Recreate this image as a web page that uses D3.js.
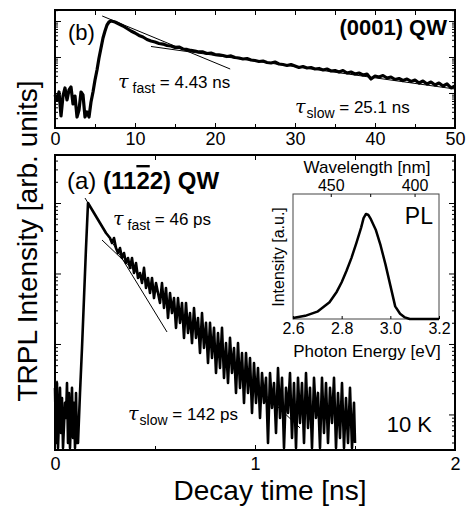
<!DOCTYPE html>
<html>
<head>
<meta charset="utf-8">
<script src="https://cdn.jsdelivr.net/npm/d3@7"></script>
<style>
    body { margin: 0; background: #fff; }
    svg text { font-family: "Liberation Sans", Arial, sans-serif; fill: #000; }
    .axis path { display: none; }
    .axis line { stroke: #000; stroke-width: 1; }
</style>
</head>
<body>
<svg id="chart" width="466" height="508"></svg>
<script>
// (b) (0001) QW, time in ns, intensity in arb. units
var timeB = [0, 0.25, 0.5, 0.75, 1, 1.25, 1.5, 1.75, 2, 2.25, 2.5, 2.75, 3, 3.25, 3.5, 3.75, 4, 4.25, 4.5, 4.75,
    5, 5.25, 5.5, 5.75, 6, 6.25, 6.5, 6.75, 7,
    7.5, 8, 8.5, 9, 9.5, 10, 10.5, 11, 11.5, 12, 12.5, 13, 13.5, 14, 14.5, 15, 15.5, 16, 16.5, 17, 17.5, 18, 18.5,
    19, 19.5, 20, 20.5, 21, 21.5, 22, 22.5, 23, 23.5, 24, 24.5, 25, 25.5, 26, 26.5, 27, 27.5, 28, 28.5, 29, 29.5,
    30, 30.5, 31, 31.5, 32, 32.5, 33, 33.5, 34, 34.5, 35, 35.5, 36, 36.5, 37, 37.5, 38, 38.5, 39, 39.5, 40, 40.5,
    41, 41.5, 42, 42.5, 43, 43.5, 44, 44.5, 45, 45.5, 46, 46.5, 47, 47.5, 48, 48.5, 49, 49.5, 50];
var intB = [0.0088, 0.00639, 0.01066, 0.0023, 0.00825, 0.01377, 0.00639, 0.01212, 0.01468, 0.00495, 0.00825,
    0.00215, 0.00337, 0.01066, 0.0088, 0.00215, 0.00297, 0.00215, 0.00562, 0.01066,
    0.023, 0.0435, 0.0938, 0.178, 0.337, 0.527, 0.774, 0.938, 1.0,
    0.938, 0.825, 0.726, 0.619, 0.527, 0.464, 0.396, 0.359, 0.306, 0.278, 0.261, 0.237, 0.229, 0.209, 0.202,
    0.184, 0.189, 0.167, 0.162, 0.152, 0.147, 0.138, 0.138, 0.125, 0.129, 0.117, 0.114, 0.110, 0.103, 0.107,
    0.0969, 0.0938, 0.088, 0.0909, 0.0825, 0.080, 0.075, 0.0774, 0.0704, 0.0681, 0.0726, 0.0639, 0.0619, 0.058,
    0.0619, 0.0562, 0.0511, 0.0545, 0.0495, 0.0511, 0.0464, 0.048, 0.0435, 0.0464, 0.0408, 0.0422, 0.0383,
    0.0422, 0.0359, 0.0383, 0.0337, 0.0359, 0.0316, 0.0337, 0.0245, 0.0296, 0.0278, 0.0306, 0.0261, 0.0278,
    0.0237, 0.0253, 0.0222, 0.0245, 0.0209, 0.0229, 0.0189, 0.0215, 0.0178, 0.0202, 0.0167, 0.0189, 0.0156,
    0.0178, 0.0138, 0.0156];
var fastFitB = [[5.9, 1.377], [21.9, 0.0464]];
var slowFitB = [[12, 0.196], [50, 0.0129]];

// (a) (11-22) QW, time in ns
var timeA = [0, 0.005, 0.01, 0.015, 0.025, 0.03, 0.035, 0.04, 0.05, 0.055, 0.06, 0.065, 0.07, 0.075, 0.085,
    0.09, 0.095, 0.1, 0.105, 0.11, 0.115, 0.125, 0.135, 0.145, 0.155, 0.165,
    0.18, 0.195, 0.21, 0.225, 0.24, 0.255,
    0.275, 0.285, 0.295, 0.305, 0.315, 0.325, 0.335, 0.345, 0.355, 0.365,
    0.375, 0.385, 0.395, 0.405, 0.415, 0.425, 0.435, 0.445, 0.455, 0.465,
    0.475, 0.485, 0.495, 0.505, 0.515, 0.525, 0.535, 0.545, 0.555, 0.565,
    0.575, 0.585, 0.595, 0.605, 0.615, 0.625, 0.635, 0.645, 0.655, 0.665,
    0.675, 0.685, 0.695, 0.705, 0.715, 0.725, 0.735, 0.745, 0.755, 0.765,
    0.775, 0.785, 0.795, 0.805, 0.815, 0.825, 0.835, 0.845, 0.855, 0.865,
    0.875, 0.885, 0.895, 0.905, 0.915, 0.925, 0.935, 0.945, 0.955, 0.965,
    0.975, 0.985, 0.995, 1.005, 1.015, 1.025,
    1.035, 1.045, 1.055, 1.065, 1.075, 1.085, 1.095, 1.105, 1.115, 1.125,
    1.135, 1.145, 1.155, 1.165, 1.175, 1.185, 1.195, 1.205, 1.215, 1.225,
    1.235, 1.245, 1.255, 1.265, 1.275, 1.285, 1.295, 1.305, 1.315, 1.325,
    1.335, 1.345, 1.355, 1.365, 1.375, 1.385, 1.395, 1.405, 1.415, 1.425,
    1.435, 1.445, 1.455, 1.465, 1.475, 1.485, 1.495, 1.5];
var intA = [0.00238, 0.000394, 0.0028, 0.000335, 0.00238, 0.000547, 0.00171, 0.000335, 0.00146, 0.00089,
    0.0028, 0.000394, 0.00202, 0.000335, 0.00238, 0.000464, 0.00146, 0.000335, 0.00202, 0.000394,
    0.000394, 0.00202, 0.00877, 0.0449, 0.23, 1.0,
    0.849, 0.721, 0.613, 0.52, 0.442, 0.375,
    0.319, 0.271, 0.319, 0.230, 0.195, 0.230, 0.166, 0.195, 0.141, 0.166,
    0.120, 0.166, 0.1016, 0.141, 0.0863, 0.1016, 0.0733, 0.120, 0.0623, 0.0863,
    0.0529, 0.0863, 0.0449, 0.0733, 0.0529, 0.0382, 0.0733, 0.0324, 0.0623, 0.0234,
    0.0529, 0.0275, 0.0449, 0.0169, 0.0449, 0.0199, 0.0382, 0.0122, 0.0382, 0.0143,
    0.0275, 0.0103, 0.0324, 0.0122, 0.0234, 0.00745, 0.0275, 0.00877, 0.0199, 0.00538,
    0.0199, 0.00633, 0.0169, 0.00388, 0.0143, 0.00457, 0.0169, 0.0033, 0.0103, 0.0028,
    0.0122, 0.00388, 0.00877, 0.00202, 0.0103, 0.00238, 0.00745, 0.00146, 0.00745, 0.00202,
    0.00633, 0.00105, 0.00538, 0.00146, 0.00457, 0.00089,
    0.00388, 0.00146, 0.0033, 0.000394, 0.00388, 0.00124, 0.0028, 0.000547, 0.00457, 0.00089,
    0.0033, 0.000335, 0.00238, 0.00105, 0.00388, 0.000464, 0.0028, 0.000335, 0.0033, 0.000757,
    0.0028, 0.000394, 0.00388, 0.000644, 0.00238, 0.000335, 0.0033, 0.00089, 0.00202, 0.000335,
    0.0033, 0.000547, 0.0028, 0.000394, 0.00238, 0.000757, 0.0033, 0.000335, 0.00202, 0.000464,
    0.0028, 0.000335, 0.00171, 0.000394, 0.00238, 0.000335, 0.00146, 0.000394];
var fastFitA = [[0.15, 1.177], [0.56, 0.0148]];
var slowFitA = [[0.235, 0.2986], [1.225, 0.000644]];

// inset PL spectrum, photon energy in eV
var energyPL = [2.6, 2.65, 2.7, 2.75, 2.78, 2.8, 2.82, 2.84, 2.86, 2.88, 2.89, 2.9, 2.91, 2.92, 2.94, 2.96,
    2.98, 3.0, 3.02, 3.04, 3.06, 3.08, 3.2];
var intPL = [0.01, 0.03, 0.07, 0.16, 0.26, 0.35, 0.46, 0.58, 0.72, 0.87, 0.96, 1.0, 0.99, 0.95, 0.85, 0.70,
    0.52, 0.32, 0.12, 0.05, 0.015, 0.0, 0.0];

var ticksB = [0, 10, 20, 30, 40, 50];
var ticksA = [0, 1, 2];
var ticksPL = [2.6, 2.8, 3.0, 3.2];
var wavelengthTicks = [450, 425, 400];
var wavelengthLabels = [450, 400];

var svg = d3.select('#chart');

var xB = d3.scaleLinear().domain([0, 50]).range([55, 455]);
var yB = d3.scaleLog().domain([1.066e-3, 2.02]).range([128, 10]);
var xA = d3.scaleLinear().domain([0, 2]).range([55, 455]);
var yA = d3.scaleLog().domain([3.13e-4, 4.8]).range([450, 155]);
var xPL = d3.scaleLinear().domain([2.6, 3.2]).range([293, 439]);
var yPL = d3.scaleLinear().domain([0, 1.19]).range([319, 194]);

function isDecade(d) {
    var l = Math.log10(d);
    return Math.abs(l - Math.round(l)) < 1e-6;
}

function logFrame(x, y, xMajor, xMinorStep, labelPad) {
    var x0 = x.range()[0], x1 = x.range()[1],
        y0 = y.range()[0], y1 = y.range()[1];
    var g = svg.append('g');
    var yt = y.ticks().filter(function (d) { return d >= y.domain()[0] && d <= y.domain()[1]; });
    var majors = yt.filter(isDecade),
        minors = yt.filter(function (d) { return !isDecade(d); });
    var xMinors = d3.range(x.domain()[0], x.domain()[1] + 1e-9, xMinorStep)
        .filter(function (d) { return xMajor.indexOf(d) < 0; });

    g.append('g').attr('class', 'axis').attr('transform', 'translate(' + x0 + ',0)')
        .call(d3.axisLeft(y).tickValues(majors).tickSize(-6).tickFormat(''));
    g.append('g').attr('class', 'axis').attr('transform', 'translate(' + x0 + ',0)')
        .call(d3.axisLeft(y).tickValues(minors).tickSize(-3).tickFormat(''));
    g.append('g').attr('class', 'axis').attr('transform', 'translate(' + x1 + ',0)')
        .call(d3.axisRight(y).tickValues(majors).tickSize(-6).tickFormat(''));
    g.append('g').attr('class', 'axis').attr('transform', 'translate(' + x1 + ',0)')
        .call(d3.axisRight(y).tickValues(minors).tickSize(-3).tickFormat(''));

    var bottom = g.append('g').attr('class', 'axis').attr('transform', 'translate(0,' + y0 + ')')
        .call(d3.axisBottom(x).tickValues(xMajor).tickSize(-5).tickPadding(labelPad)
            .tickFormat(d3.format('d')));
    bottom.selectAll('text').style('font-size', '18px');
    g.append('g').attr('class', 'axis').attr('transform', 'translate(0,' + y0 + ')')
        .call(d3.axisBottom(x).tickValues(xMinors).tickSize(-4).tickFormat(''));
    g.append('g').attr('class', 'axis').attr('transform', 'translate(0,' + y1 + ')')
        .call(d3.axisTop(x).tickValues(xMajor.concat(xMinors)).tickSize(-5).tickFormat(''));

    g.append('rect')
        .attr('x', x0).attr('y', y1)
        .attr('width', x1 - x0).attr('height', y0 - y1)
        .attr('fill', 'none').attr('stroke', '#000').attr('stroke-width', 2);
    return g;
}

function trace(x, y, data, width) {
    svg.append('path')
        .datum(data)
        .attr('fill', 'none')
        .attr('stroke', '#000')
        .attr('stroke-width', width)
        .attr('stroke-linejoin', 'round')
        .attr('d', d3.line().x(function (d) { return x(d[0]); }).y(function (d) { return y(d[1]); }));
}

function tau(x, y, sub, rest, gap) {
    var t = svg.append('text').attr('x', x).attr('y', y).style('font-size', '17px');
    t.append('tspan').text('\u03c4')
        .style('font-family', '"DejaVu Serif", serif').style('font-style', 'italic').style('font-size', '19px');
    t.append('tspan').attr('dx', gap).attr('dy', 5).style('font-size', '14px').text(sub);
    t.append('tspan').attr('dy', -5).text(' = ' + rest);
}

// panel (b)
logFrame(xB, yB, ticksB, 5, 4);
trace(xB, yB, d3.zip(timeB, intB), 3.2);
trace(xB, yB, fastFitB, 1);
trace(xB, yB, slowFitB, 1);

svg.append('text').attr('x', 68).attr('y', 40).style('font-size', '22px').text('(b)');
svg.append('text').attr('x', 447).attr('y', 35).attr('text-anchor', 'end')
    .style('font-size', '22px').style('font-weight', 'bold').text('(0001) QW');
tau(118, 88, 'fast', '4.43 ns', 4);
tau(295, 113, 'slow', '25.1 ns', 1);

// panel (a)
logFrame(xA, yA, ticksA, 0.5, 7);
trace(xA, yA, d3.zip(timeA, intA), 2.6);
trace(xA, yA, fastFitA, 1);
trace(xA, yA, slowFitA, 1);

var titleA = svg.append('text').attr('x', 67).attr('y', 189).style('font-size', '24px');
titleA.append('tspan').text('(a) ');
titleA.append('tspan').style('font-weight', 'bold').text('(11');
titleA.append('tspan').style('font-weight', 'bold').style('text-decoration', 'overline').text('2');
titleA.append('tspan').style('font-weight', 'bold').text('2) QW');
tau(113, 225, 'fast', '46 ps', 4);
tau(128, 420, 'slow', '142 ps', 1);
svg.append('text').attr('x', 432).attr('y', 432).attr('text-anchor', 'end')
    .style('font-size', '22px').text('10 K');

// inset
svg.append('rect')
    .attr('x', xPL.range()[0]).attr('y', yPL.range()[1])
    .attr('width', xPL.range()[1] - xPL.range()[0]).attr('height', yPL.range()[0] - yPL.range()[1])
    .attr('fill', '#fff').attr('stroke', '#444').attr('stroke-width', 1);
var plBottom = svg.append('g').attr('class', 'axis').attr('transform', 'translate(0,' + yPL.range()[0] + ')')
    .call(d3.axisBottom(xPL).tickValues(ticksPL).tickSize(-3).tickPadding(4).tickFormat(d3.format('.1f')));
plBottom.selectAll('text').style('font-size', '16px');
var plTop = svg.append('g').attr('class', 'axis').attr('transform', 'translate(0,' + yPL.range()[1] + ')')
    .call(d3.axisTop(xPL)
        .tickValues(wavelengthTicks.map(function (w) { return 1239.84 / w; }))
        .tickSize(-3).tickPadding(3)
        .tickFormat(function (e) {
            var w = Math.round(1239.84 / e);
            return wavelengthLabels.indexOf(w) >= 0 ? w : '';
        }));
plTop.selectAll('text').style('font-size', '16px');
trace(xPL, yPL, d3.zip(energyPL, intPL), 2.5);

svg.append('text').attr('x', 367).attr('y', 173).attr('text-anchor', 'middle')
    .style('font-size', '17px').text('Wavelength [nm]');
svg.append('text').attr('x', 367).attr('y', 357).attr('text-anchor', 'middle')
    .style('font-size', '17px').text('Photon Energy [eV]');
svg.append('text').attr('x', 433).attr('y', 224).attr('text-anchor', 'end')
    .style('font-size', '23px').text('PL');
svg.append('text').attr('transform', 'translate(284,257) rotate(-90)').attr('text-anchor', 'middle')
    .style('font-size', '16px').text('Intensity [a.u.]');

// axis titles
svg.append('text').attr('transform', 'translate(37,241) rotate(-90)').attr('text-anchor', 'middle')
    .style('font-size', '28px').text('TRPL Intensity [arb. units]');
svg.append('text').attr('x', 270).attr('y', 500).attr('text-anchor', 'middle')
    .style('font-size', '28px').text('Decay time [ns]');
</script>
</body>
</html>
